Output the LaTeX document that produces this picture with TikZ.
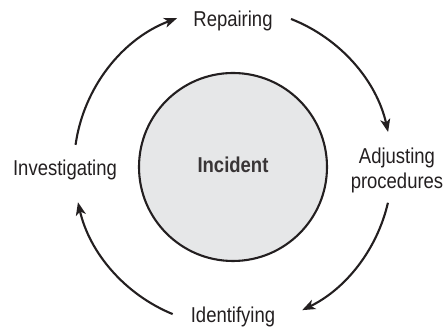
\documentclass[tikz,border=0pt]{standalone}
\usepackage{fontspec}
\setmainfont[FakeStretch=0.86]{Liberation Sans}
\usepackage{tikz}
\usetikzlibrary{arrows.meta}

\definecolor{incfill}{HTML}{E6E7E8}
\definecolor{ink}{HTML}{231F20}

\begin{document}
\begin{tikzpicture}[
          font=\fontsize{21.5}{25}\selectfont,
          lbl/.style={text=ink, inner sep=0pt, anchor=base},
          hub/.style={circle, draw=ink, line width=2.1pt, fill=incfill,
                      minimum size=188pt, inner sep=0pt},
          arr/.style={-{Stealth[length=13pt, width=10pt, inset=3.5pt]}, ink,
                      line width=2.1pt}
        ]
        \useasboundingbox (0,0) rectangle (445pt,328pt);
        \node[hub] (incident) at (233pt,161pt) {};
        \node[lbl, font=\fontsize{21.5}{25}\selectfont\bfseries, text=ink!90]
          (inctext) at (233pt,155.3pt) {Incident};
        \node[lbl] (repair) at (233pt,301.3pt) {Repairing};
        \node[lbl, align=center, anchor=center] (adjust) at (397pt,158pt)
          {Adjusting\\procedures};
        \node[lbl] (identify) at (233pt,5pt) {Identifying};
        \node[lbl] (investigate) at (65pt,152.3pt) {Investigating};

        \draw[arr] ([shift={(68.6:159pt)}]incident.center)
          arc[start angle=68.6, end angle=12.7, radius=159pt];
        \draw[arr] ([shift={(-13:159pt)}]incident.center)
          arc[start angle=-13, end angle=-64.2, radius=159pt];
        \draw[arr] ([shift={(-112.3:159pt)}]incident.center)
          arc[start angle=-112.3, end angle=-167.2, radius=159pt];
        \draw[arr] ([shift={(172:159pt)}]incident.center)
          arc[start angle=172, end angle=110.6, radius=159pt];
      \end{tikzpicture}
\end{document}
